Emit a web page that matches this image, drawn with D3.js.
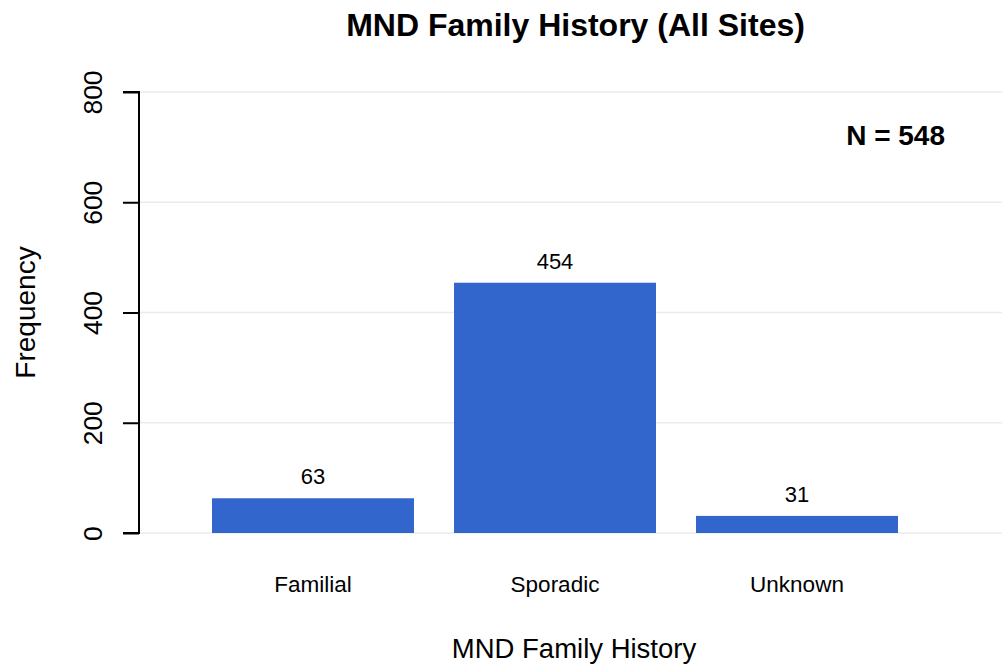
<!DOCTYPE html>
<html><head><meta charset="utf-8">
<script src="https://cdn.jsdelivr.net/npm/d3@7"></script>
<style>body{margin:0;background:#fff;} text{font-family:"Liberation Sans",Arial,sans-serif;}</style>
</head><body>
<svg id="c" width="1002" height="669"></svg>
<script>
const categories = ["Familial", "Sporadic", "Unknown"];
const values = [63, 454, 31];
const yTicks = [0, 200, 400, 600, 800];
const titleText = "MND Family History (All Sites)";
const xTitle = "MND Family History";
const yTitle = "Frequency";
const totalLabel = "N = " + d3.sum(values);

const svg = d3.select("#c");
const y = d3.scaleLinear().domain([0, 800]).range([533, 92]);
const p = 40 / 242;
const x = d3.scaleBand().domain(categories).range([172, 938]).paddingInner(p).paddingOuter(p);

// gridlines
svg.append("g").selectAll("line").data(yTicks).join("line")
  .attr("x1", 140).attr("x2", 1002)
  .attr("y1", d => y(d)).attr("y2", d => y(d))
  .attr("stroke", "#ebebeb").attr("stroke-width", 1.5);

// bars
svg.append("g").selectAll("rect").data(values).join("rect")
  .attr("x", (d, i) => x(categories[i]))
  .attr("width", x.bandwidth())
  .attr("y", d => y(d))
  .attr("height", d => y(0) - y(d))
  .attr("fill", "#3366CC");

// value labels
svg.append("g").selectAll("text").data(values).join("text")
  .attr("x", (d, i) => x(categories[i]) + x.bandwidth() / 2)
  .attr("y", d => y(d) - 14)
  .attr("text-anchor", "middle").attr("font-size", 22).attr("fill", "#000")
  .text(d => d);

// y axis
const yAxis = d3.axisLeft(y).tickValues(yTicks).tickSize(16).tickPadding(0).tickFormat(d3.format("d"));
const ga = svg.append("g").attr("transform", "translate(139,0)").call(yAxis);
ga.select(".domain").attr("stroke", "#000").attr("stroke-width", 2).attr("d", `M-16,${y(800)}H0V${y(0)}H-16`);
ga.selectAll(".tick line").attr("stroke", "#000").attr("stroke-width", 2);
ga.selectAll(".tick text")
  .attr("font-size", 26.5).attr("font-family", "Liberation Sans, Arial, sans-serif")
  .attr("fill", "#000")
  .attr("text-anchor", "middle")
  .attr("transform", "translate(-37,0) rotate(-90)")
  .attr("x", 0).attr("y", 0).attr("dy", 0);

// category labels
svg.append("g").selectAll("text").data(categories).join("text")
  .attr("x", d => x(d) + x.bandwidth() / 2)
  .attr("y", 592)
  .attr("text-anchor", "middle").attr("font-size", 22.5)
  .text(d => d);

// titles
svg.append("text").attr("x", 575.5).attr("y", 36).attr("text-anchor", "middle")
  .attr("font-size", 32).attr("font-weight", "bold").text(titleText);
svg.append("text").attr("x", 574).attr("y", 658).attr("text-anchor", "middle")
  .attr("font-size", 27.5).text(xTitle);
svg.append("text").attr("transform", "translate(34.5,312.5) rotate(-90)").attr("text-anchor", "middle")
  .attr("font-size", 28).text(yTitle);
svg.append("text").attr("x", 945).attr("y", 145).attr("text-anchor", "end")
  .attr("font-size", 28).attr("font-weight", "bold").text(totalLabel);
</script>
</body></html>
